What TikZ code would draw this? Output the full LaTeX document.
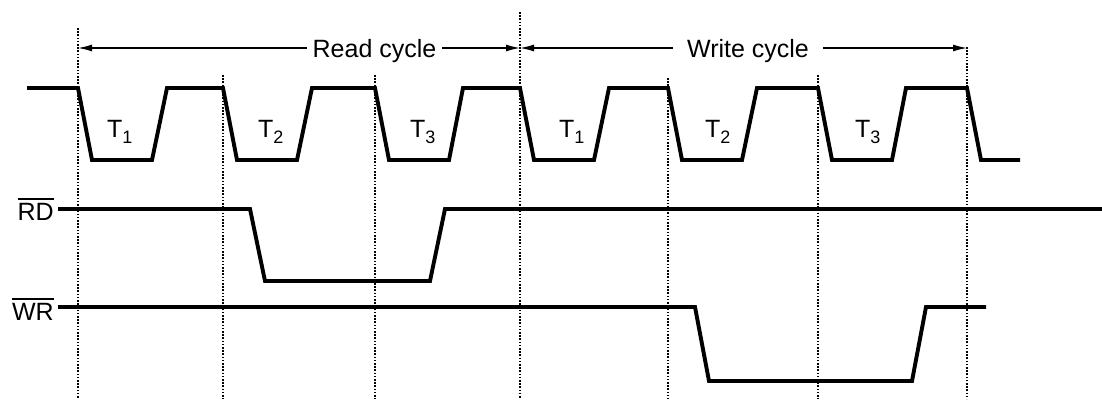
\documentclass[tikz,border=0pt]{standalone}
\usepackage{fontspec}
\setmainfont{Liberation Sans}
\usetikzlibrary{arrows.meta}
\newcommand\ovlabel[1]{\leavevmode\vbox{\hrule height 1.8pt\kern 3pt\hbox{#1}}}
\newcommand\tsub[2]{#1\raisebox{-6pt}{\fontsize{18}{18}\selectfont #2}}
\begin{document}
\begin{tikzpicture}[x=1pt,y=-1pt,
  sig/.style={line width=3.9pt, line join=miter, line cap=butt},
  gridline/.style={line width=1.5pt, dash pattern=on 1.6pt off 1.6pt},
  dimline/.style={line width=1.4pt},
  tip/.style={-{Latex[length=14pt,width=7pt]}},
  lab/.style={font=\fontsize{25}{28}\selectfont, inner sep=0pt},
]
\useasboundingbox (0,0) rectangle (1102,399);

% vertical dotted reference lines
\foreach \x/\t in {78/28, 223/75, 375/75, 520/12, 668/78, 818/75, 967/47}
  \draw[gridline] (\x,\t) -- (\x,399);

% clock
\draw[sig] (27,88) -- (78,88) -- (92,160) -- (152,160) -- (167,88)
  -- (223,88) -- (237,160) -- (297,160) -- (312,88)
  -- (375,88) -- (389,160) -- (449,160) -- (463,88)
  -- (520,88) -- (534,160) -- (594,160) -- (609,88)
  -- (668,88) -- (682,160) -- (742,160) -- (757,88)
  -- (818,88) -- (832,160) -- (892,160) -- (906,88)
  -- (967,88) -- (981,160) -- (1020,160);

% RD and WR
\draw[sig] (58,209) -- (250,209) -- (265,281) -- (430,281) -- (445,209) -- (1102,209);
\draw[sig] (58,307) -- (695,307) -- (709,381) -- (912,381) -- (926,307) -- (986,307);

% T labels
\node[lab, anchor=base west] (ta1) at (107,137) {\tsub{T}{1}};
\node[lab, anchor=base west] (ta2) at (258,137) {\tsub{T}{2}};
\node[lab, anchor=base west] (ta3) at (410,137) {\tsub{T}{3}};
\node[lab, anchor=base west] (tb1) at (559,137) {\tsub{T}{1}};
\node[lab, anchor=base west] (tb2) at (705,137) {\tsub{T}{2}};
\node[lab, anchor=base west] (tb3) at (855,137) {\tsub{T}{3}};

% signal names
\node[lab, anchor=base east] (rd) at (54,220) {\ovlabel{RD}};
\node[lab, anchor=base east] (wr) at (54,320) {\ovlabel{WR}};

% cycle arrows
\coordinate (a0) at (78,48);
\coordinate (a1) at (520,48);
\coordinate (a2) at (967,48);
\node[lab, anchor=base, inner xsep=5.5pt] (rc) at (374.5,57) {Read cycle};
\node[lab, anchor=base, inner xsep=14pt] (wc) at (748,57) {Write cycle};
\draw[dimline, tip] (a0 -| rc.west) -- (a0);
\draw[dimline, tip] (a0 -| rc.east) -- (a1);
\draw[dimline, tip] (a1 -| wc.west) -- (a1);
\draw[dimline, tip] (a1 -| wc.east) -- (a2);
\end{tikzpicture}
\end{document}
